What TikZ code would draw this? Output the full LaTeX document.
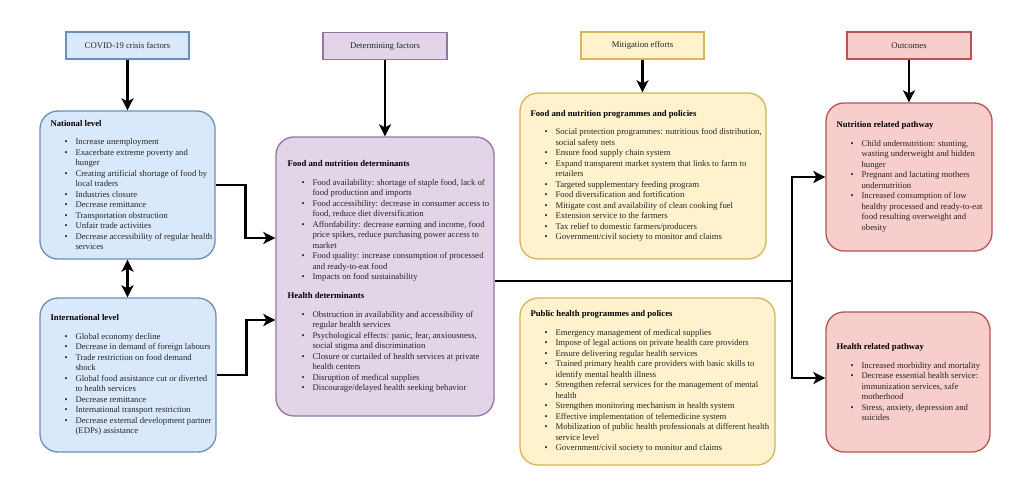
\documentclass[tikz,border=0pt]{standalone}
\usepackage{fontspec}
\setmainfont{Liberation Serif}
\usetikzlibrary{arrows.meta,calc}
\definecolor{bfill}{HTML}{DAE8FC}\definecolor{bdraw}{HTML}{6C8EBF}
\definecolor{pfill}{HTML}{E1D5E7}\definecolor{pdraw}{HTML}{9673A6}
\definecolor{yfill}{HTML}{FFF2CC}\definecolor{ydraw}{HTML}{D6B656}
\definecolor{rfill}{HTML}{F8CECC}\definecolor{rdraw}{HTML}{B85450}
\definecolor{txt}{HTML}{262626}
\newcommand\bu{\hspace*{14pt}\makebox[11pt][l]{\textbullet}}
\newcommand\cn{\hspace*{25pt}}
\newcommand\ttl[1]{\textbf{\color{black}#1}\\[8.3pt]}
\begin{document}
\begin{tikzpicture}[x=1pt,y=-1pt,
  hdr/.style={draw, line width=1.3pt, minimum height=27pt, inner sep=0pt, font=\fontsize{8.7}{10.45}\selectfont, text=txt},
  bigbox/.style={draw, line width=1.3pt, rounded corners=18pt, inner sep=0pt},
  body/.style={anchor=west, align=left, inner sep=0pt, font=\fontsize{8.7}{10.5}\selectfont, text=txt},
  arr/.style={line width=2.9pt, -{Stealth[length=12pt,width=12pt,inset=3pt]}},
  dbl/.style={line width=2.9pt, {Stealth[length=12pt,width=12pt,inset=3pt]}-{Stealth[length=12pt,width=12pt,inset=3pt]}},
  ln/.style={line width=2.9pt}]
\useasboundingbox (0,0) rectangle (1024,487);
\fill[white] (0,0) rectangle (1024,487);

% headers
\node[hdr, fill=bfill, draw=bdraw, minimum width=123pt] (h1) at (127.5,45.5) {COVID-19 crisis factors};
\node[hdr, fill=pfill, draw=pdraw, minimum width=124pt] (h2) at (385,46) {Determining factors};
\node[hdr, fill=yfill, draw=ydraw, minimum width=123pt] (h3) at (642.5,45.5) {Mitigation efforts};
\node[hdr, fill=rfill, draw=rdraw, minimum width=124pt] (h4) at (909,45.5) {Outcomes};

% boxes
\node[bigbox, fill=bfill, draw=bdraw, minimum width=175pt, minimum height=148pt] (nat) at (127.5,185) {};
\node[bigbox, fill=bfill, draw=bdraw, minimum width=176pt, minimum height=154pt] (int) at (128,375) {};
\node[bigbox, fill=pfill, draw=pdraw, minimum width=218pt, minimum height=279pt] (mid) at (385,276.5) {};
\node[bigbox, fill=yfill, draw=ydraw, minimum width=246pt, minimum height=166pt] (food) at (643,176) {};
\node[bigbox, fill=yfill, draw=ydraw, minimum width=255pt, minimum height=167pt] (pub) at (647.5,381.5) {};
\node[bigbox, fill=rfill, draw=rdraw, minimum width=166pt, minimum height=148pt] (nutr) at (909,177) {};
\node[bigbox, fill=rfill, draw=rdraw, minimum width=164pt, minimum height=140pt] (hlth) at (908,382) {};

% texts
\node[body] (tnat) at ($(nat.west)+(11,0)$) {\ttl{National level}
\bu Increase unemployment\\
\bu Exacerbate extreme poverty and\\
\cn hunger\\
\bu Creating artificial shortage of food by\\
\cn local traders\\
\bu Industries closure\\
\bu Decrease remittance\\
\bu Transportation obstruction\\
\bu Unfair trade activities\\
\bu Decrease accessibility of regular health\\
\cn services};

\node[body] (tint) at ($(int.west)+(11,0)$) {\ttl{International level}
\bu Global economy decline\\
\bu Decrease in demand of foreign labours\\
\bu Trade restriction on food demand\\
\cn shock\\
\bu Global food assistance cut or diverted\\
\cn to health services\\
\bu Decrease remittance\\
\bu International transport restriction\\
\bu Decrease external development partner\\
\cn (EDPs) assistance};

\node[body] (tmid) at ($(mid.west)+(12,0)$) {\ttl{Food and nutrition determinants}
\bu Food availability: shortage of staple food, lack of\\
\cn food production and imports\\
\bu Food accessibility: decrease in consumer access to\\
\cn food, reduce diet diversification\\
\bu Affordability: decrease earning and income, food\\
\cn price spikes, reduce purchasing power access to\\
\cn market\\
\bu Food quality: increase consumption of processed\\
\cn and ready-to-eat food\\
\bu Impacts on food sustainability\\[8.3pt]
\ttl{Health determinants}
\bu Obstruction in availability and accessibility of\\
\cn regular health services\\
\bu Psychological effects: panic, fear, anxiousness,\\
\cn social stigma and discrimination\\
\bu Closure or curtailed of health services at private\\
\cn health centers\\
\bu Disruption of medical supplies\\
\bu Discourage/delayed health seeking behavior};

\node[body] (tfood) at ($(food.west)+(11,0)$) {\ttl{Food and nutrition programmes and policies}
\bu Social protection programmes: nutritious food distribution,\\
\cn social safety nets\\
\bu Ensure food supply chain system\\
\bu Expand transparent market system that links to farm to\\
\cn retailers\\
\bu Targeted supplementary feeding program\\
\bu Food diversification and fortification\\
\bu Mitigate cost and availability of clean cooking fuel\\
\bu Extension service to the farmers\\
\bu Tax relief to domestic farmers/producers\\
\bu Government/civil society to monitor and claims};

\node[body] (tpub) at ($(pub.west)+(11,0)$) {\ttl{Public health programmes and polices}
\bu Emergency management of medical supplies\\
\bu Impose of legal actions on private health care providers\\
\bu Ensure delivering regular health services\\
\bu Trained primary health care providers with basic skills to\\
\cn identify mental health illness\\
\bu Strengthen referral services for the management of mental\\
\cn health\\
\bu Strengthen monitoring mechanism in health system\\
\bu Effective implementation of telemedicine system\\
\bu Mobilization of public health professionals at different health\\
\cn service level\\
\bu Government/civil society to monitor and claims};

\node[body] (tnutr) at ($(nutr.west)+(11,0)$) {\ttl{Nutrition related pathway}
\bu Child undernutrition: stunting,\\
\cn wasting underweight and hidden\\
\cn hunger\\
\bu Pregnant and lactating mothers\\
\cn undernutrition\\
\bu Increased consumption of low\\
\cn healthy processed and ready-to-eat\\
\cn food resulting overweight and\\
\cn obesity};

\node[body] (thlth) at ($(hlth.west)+(11,0)$) {\ttl{Health related pathway}
\bu Increased morbidity and mortality\\
\bu Decrease essential health service:\\
\cn immunization services, safe\\
\cn motherhood\\
\bu Stress, anxiety, depression and\\
\cn suicides};

% connectors
\draw[arr] (h1.south) -- (h1.south |- nat.north);
\draw[arr] (h2.south) -- (h2.south |- mid.north);
\draw[arr] (h3.south) -- (h3.south |- food.north);
\draw[arr] (h4.south) -- (h4.south |- nutr.north);
\draw[dbl] (nat.south) -- (nat.south |- int.north);

\coordinate (m1) at (mid.west |- 0,238);
\coordinate (m2) at (mid.west |- 0,320);
\draw[arr] (nat.east) -- ++(30,0) |- (m1);
\draw[arr] (int.east) -- ++(30,0) |- (m2);

\coordinate (mo) at (mid.east |- 0,281);
\coordinate (split) at (792,281);
\coordinate (hin) at (hlth.west |- 0,378);
\draw[ln] (mo) -- (split);
\draw[arr] (split) |- (nutr.west);
\draw[arr] (split) |- (hin);
\end{tikzpicture}
\end{document}
